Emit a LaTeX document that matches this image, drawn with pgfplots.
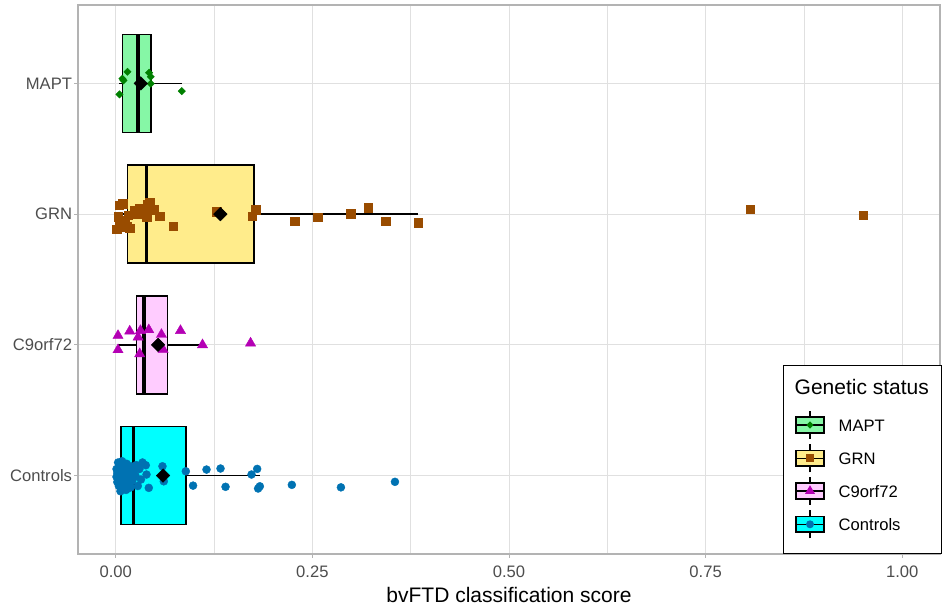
\documentclass[border=0pt]{standalone}
\usepackage{fontspec}
\setmainfont{Liberation Sans}
\usepackage{pgfplots}
\pgfplotsset{compat=1.18}
\usepgfplotslibrary{statistics}

\definecolor{maptfill}{RGB}{134,247,166}
\definecolor{maptpt}{RGB}{0,128,0}
\definecolor{grnfill}{RGB}{255,236,139}
\definecolor{grnpt}{RGB}{153,76,0}
\definecolor{c9fill}{RGB}{255,204,255}
\definecolor{c9pt}{RGB}{180,0,180}
\definecolor{ctrlfill}{RGB}{0,255,255}
\definecolor{ctrlpt}{RGB}{0,114,178}
\definecolor{gridc}{RGB}{224,224,224}
\definecolor{axc}{RGB}{179,179,179}
\definecolor{tickc}{RGB}{77,77,77}

\newcommand{\keyglyph}[2]{\tikz{\draw[black,line width=1.2pt] (0,-14pt)--(0,14pt);
 \draw[black,line width=1.5pt,fill=#1] (-13.8pt,-7.8pt) rectangle (13.8pt,7.8pt);
 \draw[black,line width=1.5pt] (-13.8pt,0)--(13.8pt,0); #2}}

\begin{document}
\begin{tikzpicture}
\begin{axis}[
  scale only axis, width=862pt, height=549pt,
  xmin=-0.048, xmax=1.048, ymin=0.4, ymax=4.6,
  xtick={0,0.25,0.5,0.75,1},
  xticklabels={0.00,0.25,0.50,0.75,1.00},
  minor xtick={0.125,0.375,0.625,0.875},
  ytick={1,2,3,4}, yticklabels={Controls,C9orf72,GRN,MAPT},
  grid=both,
  major grid style={gridc, line width=0.8pt},
  minor grid style={gridc, line width=0.6pt},
  axis line style={axc, line width=1.2pt},
  tick align=outside, major tick length=3.8pt, minor tick length=0pt,
  tick style={axc, line width=1pt},
  xtick pos=bottom, ytick pos=left,
  ticklabel style={font=\fontsize{16.6}{20}\selectfont, text=tickc},
  yticklabel style={inner sep=2pt},
  xticklabel style={inner sep=2pt, yshift=-5.5pt},
  xlabel={bvFTD classification score},
  xlabel style={font=\fontsize{21}{25}\selectfont, text=black, yshift=-4pt},
  /pgf/number format/assume math mode=true,
]
% boxplots
\addplot[draw=black, line width=1.5pt, fill=maptfill,
  boxplot prepared={draw direction=x, draw position=4, box extend=0.75, whisker extend=0,
    lower whisker=0.004, lower quartile=0.0085, median=0.0284,
    upper quartile=0.0445, upper whisker=0.0836},
  boxplot/every median/.style={line width=3.3pt},
  boxplot/every whisker/.style={line width=1.3pt}] coordinates {};
\addplot[draw=black, line width=1.5pt, fill=grnfill,
  boxplot prepared={draw direction=x, draw position=3, box extend=0.75, whisker extend=0,
    lower whisker=0.0013, lower quartile=0.0149, median=0.039,
    upper quartile=0.176, upper whisker=0.3846},
  boxplot/every median/.style={line width=3.3pt},
  boxplot/every whisker/.style={line width=1.3pt}] coordinates {};
\addplot[draw=black, line width=1.5pt, fill=c9fill,
  boxplot prepared={draw direction=x, draw position=2, box extend=0.75, whisker extend=0,
    lower whisker=0.0029, lower quartile=0.0263, median=0.036,
    upper quartile=0.0658, upper whisker=0.1103},
  boxplot/every median/.style={line width=3.3pt},
  boxplot/every whisker/.style={line width=1.3pt}] coordinates {};
\addplot[draw=black, line width=1.5pt, fill=ctrlfill,
  boxplot prepared={draw direction=x, draw position=1, box extend=0.75, whisker extend=0,
    lower whisker=0.001, lower quartile=0.0068, median=0.0229,
    upper quartile=0.089, upper whisker=0.1832},
  boxplot/every median/.style={line width=3.3pt},
  boxplot/every whisker/.style={line width=1.3pt}] coordinates {};

% jittered points
\addplot[only marks, mark=square*, mark size=2.6pt,
  mark options={rotate=45, draw=maptpt, fill=maptpt, line width=0.4pt}] coordinates {
 (0.0047,3.916) (0.0085,4.036) (0.0098,4.023) (0.0149,4.089)
 (0.0424,4.082) (0.0445,4.051) (0.0445,3.998) (0.0840,3.941)};
\addplot[only marks, mark=square*, mark size=4.3pt,
  mark options={draw=grnpt, fill=grnpt, line width=0.4pt}] coordinates {
 (0.0042,3.069) (0.0085,3.082) (0.0029,2.979) (0.0051,2.954) (0.0115,2.941)
 (0.0136,2.903) (0.0073,2.903) (0.0156,2.992) (0.0242,3.031) (0.0305,3.044)
 (0.0369,3.044) (0.0433,3.090) (0.0391,2.979) (0.0483,3.036) (0.0560,2.985)
 (0.0729,2.908) (0.1281,3.018) (0.1781,3.036) (0.1734,2.985) (0.2277,2.946)
 (0.2570,2.977) (0.2990,3.005) (0.3210,3.051) (0.3435,2.946) (0.3846,2.936)
 (0.8066,3.038) (0.9504,2.992) (0.0013,2.885) (0.0178,2.893) (0.0280,3.000)
 (0.0410,3.070)};
\addplot[only marks, mark=triangle*, mark size=5.9pt,
  mark options={draw=c9pt, fill=c9pt, line width=0.4pt}] coordinates {
 (0.0029,2.071) (0.0029,1.962) (0.0178,2.105) (0.0314,2.109) (0.0284,2.059)
 (0.0420,2.115) (0.0305,1.931) (0.0581,2.079) (0.0602,1.964) (0.0823,2.109)
 (0.1103,2.000) (0.1714,2.013)};
\addplot[only marks, mark=*, mark size=4pt,
  mark options={draw=ctrlpt, fill=ctrlpt, line width=0.4pt}] coordinates {
 (0.0382,1.079) (0.0391,1.008) (0.0420,0.906) (0.0594,1.071) (0.0611,0.956)
 (0.0891,1.033) (0.0983,0.923) (0.1154,1.046) (0.1332,1.054) (0.1396,0.914)
 (0.1726,1.008) (0.1798,1.051) (0.1810,0.901) (0.1832,0.918) (0.2239,0.929)
 (0.2863,0.910) (0.3550,0.952)
 (0.001,1.05) (0.002,0.95) (0.003,1.10) (0.004,0.92) (0.005,1.02)
 (0.006,0.97) (0.007,1.08) (0.008,0.90) (0.009,1.00) (0.010,1.06)
 (0.011,0.94) (0.012,1.03) (0.013,0.89) (0.014,1.09) (0.015,0.98)
 (0.016,1.04) (0.017,0.93) (0.018,1.01) (0.019,0.91) (0.020,1.07)
 (0.021,0.96) (0.022,1.03) (0.024,0.99) (0.026,1.08) (0.028,0.92)
 (0.030,1.05) (0.032,0.97) (0.034,1.10) (0.004,1.00) (0.006,0.88)
 (0.008,1.11) (0.012,0.95) (0.002,1.02) (0.015,0.90) (0.025,1.00)
 (0.003,0.97) (0.010,0.93) (0.001,0.99) (0.005,1.07) (0.007,0.95)};

% means
\addplot[only marks, mark=square*, mark size=4.8pt,
  mark options={rotate=45, draw=black, fill=black}] coordinates {
 (0.0318,4) (0.1330,3) (0.0538,2) (0.0602,1)};
\end{axis}

% legend
\node[draw=black, line width=1pt, fill=white, anchor=south east, minimum width=158pt,
  minimum height=188pt, inner sep=0pt] (leg) at ([xshift=1.5pt]current axis.south east) {};
\node[anchor=base west, inner sep=0pt, font=\fontsize{21}{25}\selectfont]
  at ([xshift=12pt,yshift=-29.5pt]leg.north west) {Genetic status};
\node[inner sep=0pt] at ([xshift=27.5pt,yshift=-60pt]leg.north west)
  {\keyglyph{maptfill}{\fill[maptpt] (0,3.6pt)--(3.6pt,0)--(0,-3.6pt)--(-3.6pt,0)--cycle;}};
\node[inner sep=0pt] at ([xshift=27.5pt,yshift=-93.3pt]leg.north west)
  {\keyglyph{grnfill}{\fill[grnpt] (-4.2pt,-4.2pt) rectangle (4.2pt,4.2pt);}};
\node[inner sep=0pt] at ([xshift=27.5pt,yshift=-126pt]leg.north west)
  {\keyglyph{c9fill}{\fill[c9pt] (90:5.8pt)--(210:5.8pt)--(330:5.8pt)--cycle;}};
\node[inner sep=0pt] at ([xshift=27.5pt,yshift=-159.3pt]leg.north west)
  {\keyglyph{ctrlfill}{\fill[ctrlpt] (0,0) circle (4pt);}};
\node[anchor=base west, inner sep=0pt, font=\fontsize{16.6}{20}\selectfont]
  at ([xshift=56pt,yshift=-66.5pt]leg.north west) {MAPT};
\node[anchor=base west, inner sep=0pt, font=\fontsize{16.6}{20}\selectfont]
  at ([xshift=56pt,yshift=-99.8pt]leg.north west) {GRN};
\node[anchor=base west, inner sep=0pt, font=\fontsize{16.6}{20}\selectfont]
  at ([xshift=56pt,yshift=-132.5pt]leg.north west) {C9orf72};
\node[anchor=base west, inner sep=0pt, font=\fontsize{16.6}{20}\selectfont]
  at ([xshift=56pt,yshift=-165.8pt]leg.north west) {Controls};

\path ([xshift=-78pt,yshift=-52pt]current axis.south west) rectangle ([xshift=4pt,yshift=5pt]current axis.north east);
\end{tikzpicture}
\end{document}
